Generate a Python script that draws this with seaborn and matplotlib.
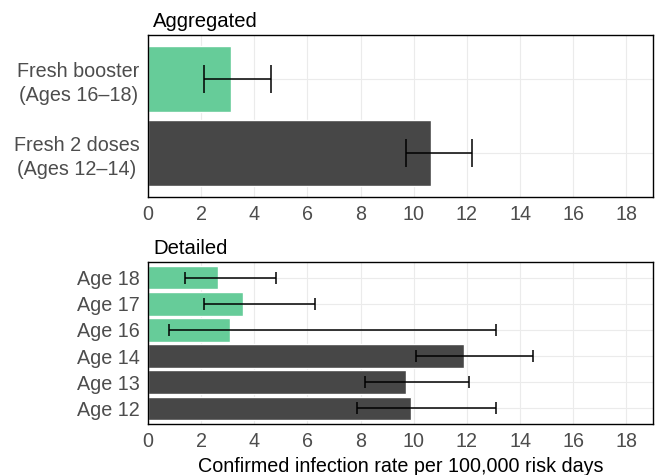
import matplotlib
matplotlib.use("Agg")
import matplotlib.pyplot as plt
import seaborn as sns
import pandas as pd

# ---- data ----
agg_labels = ["Fresh booster\n(Ages 16\u201318)", "Fresh 2 doses\n(Ages 12\u201314)"]
agg_group = ["booster", "two"]
agg_rate = [3.12, 10.63]
agg_low = [2.09, 9.70]
agg_high = [4.61, 12.20]

det_labels = ["Age 18", "Age 17", "Age 16", "Age 14", "Age 13", "Age 12"]
det_group = ["booster", "booster", "booster", "two", "two", "two"]
det_rate = [2.62, 3.59, 3.10, 11.90, 9.71, 9.91]
det_low = [1.39, 2.09, 0.79, 10.09, 8.18, 7.87]
det_high = [4.81, 6.29, 13.09, 14.49, 12.09, 13.09]

x_ticks = [0, 2, 4, 6, 8, 10, 12, 14, 16, 18]
x_max = 19
x_label = "Confirmed infection rate per 100,000 risk days"
titles = ["Aggregated", "Detailed"]

palette = {"booster": "#66CC99", "two": "#474747"}

sns.set_style("white")
plt.rcParams["font.family"] = ["Liberation Sans", "DejaVu Sans"]

fig = plt.figure(figsize=(6.57, 4.75), dpi=100)
W, H = 657, 475
def axpos(l, t, r, b):
    return [l / W, 1 - b / H, (r - l) / W, (b - t) / H]

ax1 = fig.add_axes(axpos(148, 35, 653, 197))
ax2 = fig.add_axes(axpos(148, 262, 653, 424))

FS = 14.2
tick_col = "#4D4D4D"

def draw(ax, labels, groups, rate, low, high, title, capsize, show_xlabel):
    df = pd.DataFrame({"label": labels, "group": groups, "rate": rate})
    sns.barplot(data=df, y="label", x="rate", hue="group", palette=palette,
                order=labels, width=0.9, dodge=False, legend=False, ax=ax,
                errorbar=None, saturation=1, zorder=2)
    ypos = list(range(len(labels)))
    xerr = [[r - lo for r, lo in zip(rate, low)], [hi - r for r, hi in zip(rate, high)]]
    ax.errorbar(rate, ypos, xerr=xerr, fmt="none", ecolor="black",
                elinewidth=1.1, capsize=capsize, capthick=1.1, zorder=3)
    ax.set_xlim(0, x_max)
    ax.set_ylim(len(labels) - 1 + 0.6, -0.6)
    ax.set_xticks(x_ticks)
    ax.set_xticklabels([str(t) for t in x_ticks])
    ax.grid(True, color="#EBEBEB", linewidth=0.8, zorder=0)
    ax.set_axisbelow(True)
    for s in ax.spines.values():
        s.set_visible(True)
        s.set_color("black")
        s.set_linewidth(1.0)
    ax.tick_params(axis="both", labelsize=FS, colors="#333333",
                   length=3, width=0.8, pad=3)
    ax.tick_params(axis="x", labelcolor=tick_col)
    ax.tick_params(axis="y", labelcolor=tick_col)
    ax.set_ylabel("")
    if show_xlabel:
        ax.set_xlabel(x_label, fontsize=FS, color="black", labelpad=4)
    else:
        ax.set_xlabel("")
    ax.annotate(title, xy=(0, 1), xycoords="axes fraction", xytext=(3.6, 5.8),
                textcoords="offset points", ha="left", va="baseline",
                fontsize=FS + 0.4, color="black")

draw(ax1, agg_labels, agg_group, agg_rate, agg_low, agg_high, titles[0], 10.4, False)
draw(ax2, det_labels, det_group, det_rate, det_low, det_high, titles[1], 4.3, True)
for lbl in ax1.get_yticklabels():
    lbl.set_multialignment("center")
    lbl.set_linespacing(1.35)

fig.savefig("out.png", dpi=100)
